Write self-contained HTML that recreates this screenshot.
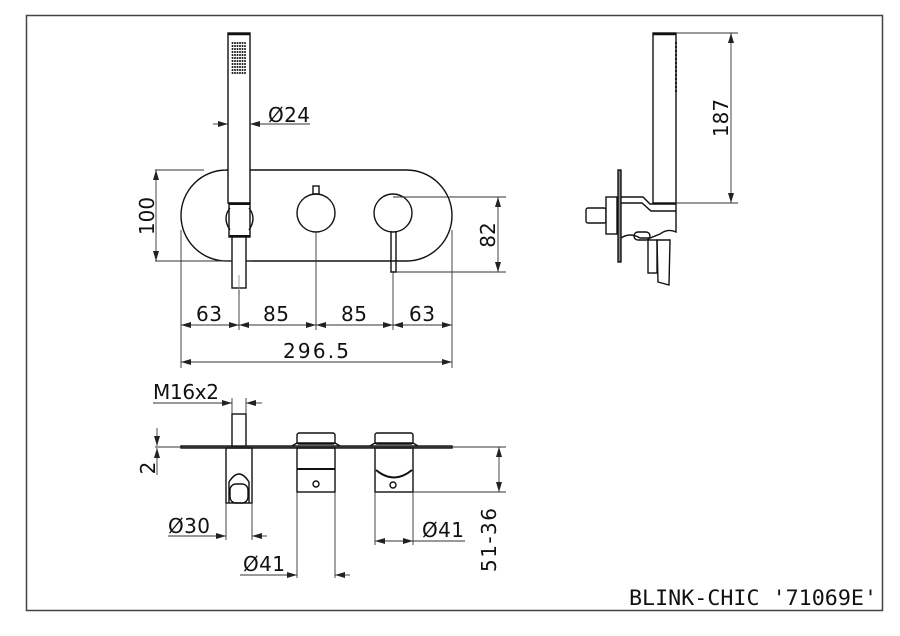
<!DOCTYPE html>
<html><head><meta charset="utf-8"><style>
html,body{margin:0;padding:0;background:#fff;}
svg{display:block;}
text{font-family:"DejaVu Sans","Liberation Sans",sans-serif;font-size:20px;fill:#111;}
</style></head><body>
<svg width="900" height="636" viewBox="0 0 900 636" xmlns="http://www.w3.org/2000/svg">
<defs>
<marker id="a" viewBox="0 0 10 6" refX="10" refY="3" markerWidth="10" markerHeight="6" orient="auto-start-reverse" markerUnits="userSpaceOnUse"><path d="M0,0 L10,3 L0,6 z" fill="#222"/></marker>
</defs>
<rect x="26.5" y="15.5" width="856" height="595" fill="none" stroke="#444" stroke-width="1.5"/>
<text x="629" y="605" textLength="248" lengthAdjust="spacingAndGlyphs" style="font-family:'DejaVu Sans Mono','Liberation Mono',monospace;font-size:21px">BLINK-CHIC '71069E'</text>

<g fill="none" stroke="#111" stroke-width="1.4">
<path d="M226,170 H406.5 A45.5,45.5 0 0 1 406.5,261 H226.5 A45.5,45.5 0 0 1 226.5,170"/>
<rect x="228" y="33" width="22" height="170" fill="#fff"/>
<line x1="228" y1="34" x2="250" y2="34" stroke-width="2.5"/>
<rect x="229" y="203" width="21" height="34" fill="#fff"/>
<line x1="229" y1="204" x2="250" y2="204" stroke-width="2"/>
<line x1="229" y1="236" x2="250" y2="236" stroke-width="2"/>
<path d="M230,208 Q222,218 230,230 M249,208 Q257,218 249,230"/>
<rect x="232" y="237" width="14" height="51" fill="#fff"/>
<line x1="239" y1="275" x2="239" y2="295" stroke="#888" stroke-width="0.8"/>
<circle cx="316" cy="213" r="19" fill="#fff"/>
<rect x="313" y="186" width="6" height="8"/>
<circle cx="393" cy="213" r="19" fill="#fff"/>
<path d="M391,231 L391,272 L396,272 L396,231"/>
</g>
<g fill="#111">
<g id="dr"><circle cx="232.5" cy="43" r="1"/><circle cx="235" cy="43" r="1"/><circle cx="237.5" cy="43" r="1"/><circle cx="240" cy="43" r="1"/><circle cx="242.5" cy="43" r="1"/><circle cx="245" cy="43" r="1"/></g>
<use href="#dr" y="3"/><use href="#dr" y="6"/><use href="#dr" y="9"/><use href="#dr" y="12"/><use href="#dr" y="15"/><use href="#dr" y="18"/><use href="#dr" y="21"/><use href="#dr" y="24"/><use href="#dr" y="27"/><use href="#dr" y="30"/>
</g>

<g stroke="#333" stroke-width="0.9" fill="none">
<line x1="155" y1="170" x2="204" y2="170"/><line x1="155" y1="261" x2="232" y2="261"/><line x1="246" y1="261" x2="252" y2="261"/>
<line x1="156" y1="170" x2="156" y2="261" marker-start="url(#a)" marker-end="url(#a)"/>
<line x1="393" y1="197" x2="506" y2="197"/><line x1="396" y1="272" x2="506" y2="272"/>
<line x1="498" y1="197" x2="498" y2="272" marker-start="url(#a)" marker-end="url(#a)"/>
<line x1="213" y1="124" x2="228" y2="124" marker-end="url(#a)"/>
<line x1="310" y1="124" x2="250" y2="124" marker-end="url(#a)"/>
<line x1="181" y1="230" x2="181" y2="368"/><line x1="452" y1="230" x2="452" y2="368"/>
<line x1="239" y1="290" x2="239" y2="330"/><line x1="316" y1="232" x2="316" y2="330"/><line x1="393" y1="272" x2="393" y2="330"/>
<line x1="181" y1="325" x2="239" y2="325" marker-start="url(#a)" marker-end="url(#a)"/>
<line x1="239" y1="325" x2="316" y2="325" marker-start="url(#a)" marker-end="url(#a)"/>
<line x1="316" y1="325" x2="393" y2="325" marker-start="url(#a)" marker-end="url(#a)"/>
<line x1="393" y1="325" x2="452" y2="325" marker-start="url(#a)" marker-end="url(#a)"/>
<line x1="181" y1="362" x2="452" y2="362" marker-start="url(#a)" marker-end="url(#a)"/>
</g>
<text x="268" y="122" textLength="42">Ø24</text>
<text x="196" y="321" textLength="26">63</text><text x="263" y="321" textLength="26">85</text><text x="341" y="321" textLength="26">85</text><text x="409" y="321" textLength="26">63</text>
<text x="283" y="358" textLength="66">296.5</text>
<text transform="translate(154,216) rotate(-90)" text-anchor="middle">100</text>
<text transform="translate(495,235) rotate(-90)" text-anchor="middle">82</text>

<g fill="none" stroke="#111" stroke-width="1.4">
<rect x="653" y="33" width="23" height="170" fill="#fff"/>
<line x1="653" y1="34" x2="676" y2="34" stroke-width="2.5"/>
<rect x="618" y="170" width="3" height="92" fill="#888"/>
<rect x="586" y="208" width="20" height="15" rx="2" fill="#fff"/>
<rect x="606" y="197" width="11" height="37" fill="#fff"/>
<path d="M621,197 H643 L650,204 H676 V232 Q668,228 660,234 L650,238 H640 Q630,232 621,238"/>
<path d="M621,203 H642 L651,211 H676"/>
<rect x="634" y="232" width="16" height="8" rx="4"/>
<rect x="648" y="240" width="9" height="33"/>
<path d="M657,240 H670 L669,285 L658,282 Z"/>
</g>
<g fill="#111">
<circle cx="676" cy="43" r="1.1"/><circle cx="676" cy="47" r="1.1"/><circle cx="676" cy="51" r="1.1"/><circle cx="676" cy="55" r="1.1"/><circle cx="676" cy="59" r="1.1"/><circle cx="676" cy="63" r="1.1"/><circle cx="676" cy="67" r="1.1"/><circle cx="676" cy="71" r="1.1"/><circle cx="676" cy="75" r="1.1"/><circle cx="676" cy="79" r="1.1"/><circle cx="676" cy="83" r="1.1"/><circle cx="676" cy="87" r="1.1"/><circle cx="676" cy="91" r="1.1"/>
</g>
<g stroke="#333" stroke-width="0.9" fill="none">
<line x1="676" y1="33" x2="738" y2="33"/><line x1="676" y1="203" x2="738" y2="203"/>
<line x1="731" y1="33" x2="731" y2="203" marker-start="url(#a)" marker-end="url(#a)"/>
</g>
<text transform="translate(728,118) rotate(-90)" text-anchor="middle">187</text>

<g fill="none" stroke="#111" stroke-width="1.4">
<rect x="181" y="446" width="271" height="2" fill="#777"/>
<rect x="232" y="414" width="14" height="32" fill="#fff"/>
<rect x="226" y="448" width="26" height="55"/>
<path d="M229,503 V482 Q239,466 249,482 V503"/>
<rect x="230" y="484" width="18" height="19" rx="6"/>
<rect x="297" y="433" width="38" height="11" rx="2"/>
<path d="M292,446 L297,443 H335 L340,446"/>
<rect x="297" y="448" width="38" height="44"/>
<line x1="297" y1="469" x2="335" y2="469" stroke-width="2"/>
<circle cx="316" cy="484" r="3"/>
<rect x="375" y="433" width="38" height="11" rx="2"/>
<path d="M370,446 L375,443 H413 L418,446"/>
<rect x="375" y="448" width="38" height="44"/>
<path d="M376,470 Q394,485 412,470" stroke-width="2"/>
<circle cx="393" cy="485" r="3"/>
</g>
<g stroke="#333" stroke-width="0.9" fill="none">
<line x1="153" y1="403" x2="232" y2="403" marker-end="url(#a)"/>
<line x1="262" y1="403" x2="246" y2="403" marker-end="url(#a)"/>
<line x1="232" y1="398" x2="232" y2="414"/><line x1="246" y1="398" x2="246" y2="414"/>
<line x1="157" y1="428" x2="157" y2="446" marker-end="url(#a)"/>
<line x1="157" y1="475" x2="157" y2="448" marker-end="url(#a)"/>
<line x1="155" y1="447" x2="181" y2="447"/>
<line x1="226" y1="503" x2="226" y2="540"/><line x1="252" y1="503" x2="252" y2="540"/>
<line x1="168" y1="536" x2="226" y2="536"/>
<line x1="214" y1="536" x2="226" y2="536" marker-end="url(#a)"/>
<line x1="267" y1="536" x2="252" y2="536" marker-end="url(#a)"/>
<line x1="297" y1="492" x2="297" y2="578"/><line x1="335" y1="492" x2="335" y2="578"/>
<line x1="240" y1="575" x2="297" y2="575"/>
<line x1="285" y1="575" x2="297" y2="575" marker-end="url(#a)"/>
<line x1="350" y1="575" x2="335" y2="575" marker-end="url(#a)"/>
<line x1="375" y1="492" x2="375" y2="545"/><line x1="413" y1="492" x2="413" y2="545"/>
<line x1="375" y1="541" x2="413" y2="541" marker-start="url(#a)" marker-end="url(#a)"/>
<line x1="413" y1="541" x2="465" y2="541"/>
<line x1="452" y1="447" x2="506" y2="447"/><line x1="413" y1="492" x2="506" y2="492"/>
<line x1="499" y1="447" x2="499" y2="492" marker-start="url(#a)" marker-end="url(#a)"/>
</g>
<text x="153" y="399" textLength="66">M16x2</text>
<text x="168" y="533" textLength="42">Ø30</text>
<text x="243" y="571" textLength="42">Ø41</text>
<text x="422" y="537" textLength="42">Ø41</text>
<text transform="translate(155,468) rotate(-90)" text-anchor="middle">2</text>
<text transform="translate(496,540) rotate(-90)" text-anchor="middle" textLength="64">51-36</text>
</svg>
</body></html>
